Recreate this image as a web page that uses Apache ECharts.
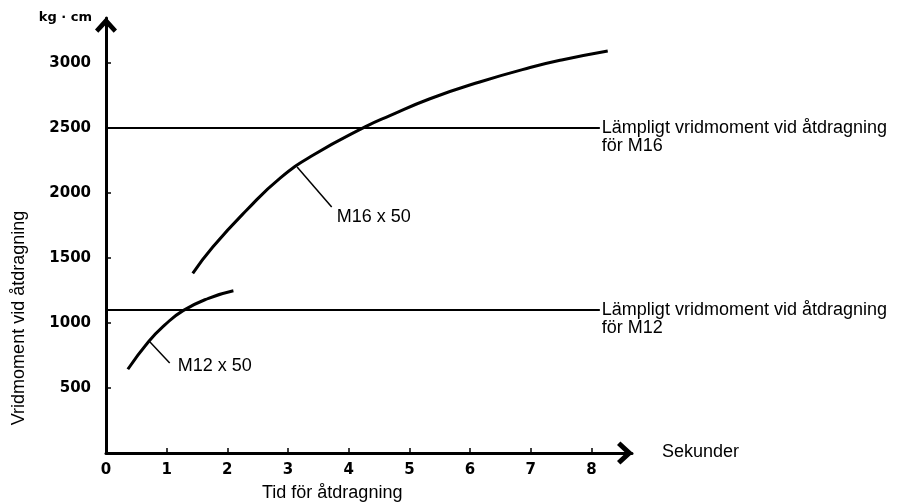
<!DOCTYPE html>
<html><head><meta charset="utf-8">
<script src="https://cdn.jsdelivr.net/npm/echarts@6/dist/echarts.min.js"></script>
<style>html,body{margin:0;padding:0;background:#fff}#c{width:903px;height:503px}</style>
</head><body><div id="c"></div>
<script>
// ---- data ----
const xTicks = [0, 1, 2, 3, 4, 5, 6, 7, 8];
const yTicks = [500, 1000, 1500, 2000, 2500, 3000];
const m16X = [1.43, 1.76, 2.32, 2.87, 3.41, 4.27, 4.68, 5.34, 6.16, 6.99, 7.53, 8.27];
const m16Y = [1382, 1585, 1869, 2115, 2290, 2508, 2595, 2725, 2854, 2965, 3025, 3092];
const m12X = [0.36, 0.70, 0.97, 1.27, 1.69, 2.10];
const m12Y = [644, 856, 985, 1095, 1190, 1248];
const refValues = [2500, 1100];
const refRangeX = [0, 8.14];
const refLabels = ['Lämpligt vridmoment vid åtdragning\nför M16', 'Lämpligt vridmoment vid åtdragning\nför M12'];
const curveNames = ['M16 x 50', 'M12 x 50'];
const m16LeaderX = [3.15, 3.72], m16LeaderY = [2200, 1892];
const m12LeaderX = [0.71, 1.05], m12LeaderY = [862, 692];
const xMax = 8.67, yMax = 3346;

const zip = (xs, ys) => xs.map((x, i) => [x, ys[i]]);
const arrowPath = 'path://M10,0 L20,11 L17,14 L10,6.5 L3,14 L0,11 Z';
const txtFont = 'Liberation Sans, Arial, sans-serif';

const chart = echarts.init(document.getElementById('c'));
const refSeries = (i) => ({
  type: 'line', symbol: 'none', silent: true,
  data: [[refRangeX[0], refValues[i]], [refRangeX[1], refValues[i]]],
  lineStyle: { color: '#000', width: 2 },
  endLabel: { show: true, formatter: refLabels[i], distance: 2, offset: [0, 9],
    color: '#000', fontSize: 18, lineHeight: 18, fontFamily: txtFont }
});
const leaderSeries = (xs, ys, name, dist, off) => ({
  type: 'line', symbol: 'none', silent: true,
  data: zip(xs, ys),
  lineStyle: { color: '#000', width: 1.5 },
  endLabel: { show: true, formatter: name, distance: dist, offset: off,
    color: '#000', fontSize: 18, fontFamily: txtFont }
});
const tickLabel = { color: '#000', fontFamily: 'DejaVu Sans', fontWeight: 'bold', fontSize: 15,
  formatter: (v) => String(v) };

chart.setOption({
  animation: false,
  backgroundColor: '#fff',
  grid: { left: 106, right: 271, top: 18, bottom: 50 },
  xAxis: {
    type: 'value', min: 0, max: xMax, interval: 1,
    axisLine: { show: true, onZero: false, lineStyle: { color: '#000', width: 3 },
      symbol: ['none', arrowPath], symbolSize: [23, 16], symbolOffset: [0, -7] },
    axisTick: { show: true, inside: true, length: 5, lineStyle: { color: '#000', width: 1.5 }, customValues: xTicks },
    axisLabel: Object.assign({ customValues: xTicks, margin: 10 }, tickLabel),
    splitLine: { show: false }
  },
  yAxis: {
    type: 'value', min: 0, max: yMax, interval: 500,
    axisLine: { show: true, onZero: false, lineStyle: { color: '#000', width: 3 },
      symbol: ['none', arrowPath], symbolSize: [22, 17], symbolOffset: [0, -7] },
    axisTick: { show: true, inside: true, length: 5, lineStyle: { color: '#000', width: 1.5 }, customValues: yTicks },
    axisLabel: Object.assign({ customValues: yTicks, margin: 15 }, tickLabel),
    splitLine: { show: false }
  },
  graphic: [
    { type: 'text', x: 92, y: 18, style: { text: 'kg · cm', align: 'right', verticalAlign: 'middle',
      fill: '#000', font: 'bold 13px "DejaVu Sans"' } },
    { type: 'text', x: 19, y: 318, rotation: Math.PI / 2, style: { text: 'Vridmoment vid åtdragning',
      align: 'center', verticalAlign: 'middle', fill: '#000', font: '18px "Liberation Sans"' } },
    { type: 'text', x: 262, y: 493, style: { text: 'Tid för åtdragning', align: 'left', verticalAlign: 'middle',
      fill: '#000', font: '18px "Liberation Sans"' } },
    { type: 'text', x: 662, y: 452, style: { text: 'Sekunder', align: 'left', verticalAlign: 'middle',
      fill: '#000', font: '18px "Liberation Sans"' } }
  ],
  series: [
    { type: 'line', name: curveNames[0], symbol: 'none', smooth: true, data: zip(m16X, m16Y),
      lineStyle: { color: '#000', width: 3 } },
    { type: 'line', name: curveNames[1], symbol: 'none', smooth: true, data: zip(m12X, m12Y),
      lineStyle: { color: '#000', width: 3 } },
    refSeries(0),
    refSeries(1),
    leaderSeries(m16LeaderX, m16LeaderY, curveNames[0], 5, [0, 10]),
    leaderSeries(m12LeaderX, m12LeaderY, curveNames[1], 8, [0, 3])
  ]
});
</script></body></html>
